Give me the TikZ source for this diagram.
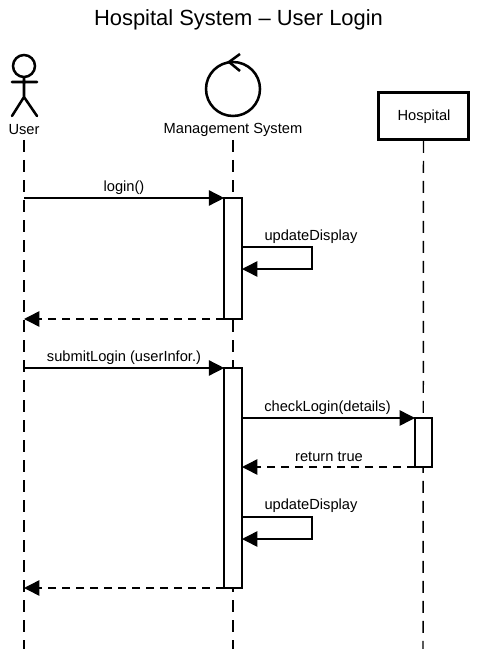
\documentclass[tikz,border=0pt]{standalone}
\usepackage{fontspec}
\setmainfont{Liberation Sans}
\usetikzlibrary{arrows.meta}
\tikzset{
  x=0.75pt,y=-0.75pt,
  lifeline/.style={line width=1.1pt,dash pattern=on 9pt off 6pt,draw=black},
  actorline/.style={line width=1.9pt,line cap=round,draw=black},
  activation/.style={draw=black,fill=white,line width=1.1pt,minimum width=13.2pt,inner sep=0pt,outer sep=0pt,anchor=north},
  msg/.style={line width=1.1pt,draw=black,-{Triangle[length=11.5pt,width=11.5pt]}},
  reply/.style={msg,dash pattern=on 6pt off 4.5pt},
  lbl/.style={font=\fontsize{11pt}{13pt}\selectfont,inner sep=0pt,text=black}
}
\begin{document}
\begin{tikzpicture}
\path[use as bounding box,fill=white] (0,0) rectangle (477,649);
\node[font=\fontsize{16.45pt}{19pt}\selectfont,inner sep=0pt] (title) at (238.5,19.5) {Hospital System – User Login};
% actor
\node[draw=black,line width=1.9pt,circle,minimum size=16.5pt,inner sep=0pt] (head) at (24,66) {};
\coordinate (neck) at (24,77);
\coordinate (hip) at (24,97);
\coordinate (armL) at (12,82);
\coordinate (armR) at (37,82);
\coordinate (legL) at (12,116);
\coordinate (legR) at (37,116);
\draw[actorline] (head.south) -- (hip) (armL) -- (armR) (legL) -- (hip) -- (legR);
\node[lbl] (user) at (24,130) {User};
% control
\node[draw=black,line width=1.9pt,circle,minimum size=40.5pt,inner sep=0pt] (ctrl) at (233,89) {};
\coordinate (chevA) at (240,54);
\coordinate (chevB) at (229,62);
\coordinate (chevC) at (240,71);
\draw[actorline,line cap=butt] (chevA) -- (chevB) -- (chevC);
\node[lbl] (mgmt) at (233,130) {Management System};
% entity
\node[draw=black,line width=2.2pt,minimum width=67pt,minimum height=35pt,inner sep=0pt] (hosp) at (423.5,116) {};
\node[lbl] at (424,117) (hosplbl) {Hospital};
% lifelines
\coordinate (userTop) at (24,140);
\coordinate (mgmtTop) at (233,140);
\coordinate (userEnd) at (24,649);
\coordinate (mgmtEnd) at (233,649);
\coordinate (hospEnd) at (423,649);
\draw[lifeline] (userTop) -- (userEnd);
\draw[lifeline] (mgmtTop) -- (mgmtEnd);
\draw[lifeline] (hosp.south) -- (hospEnd);
% activations
\node[activation,minimum height=90.75pt] (a1) at (233,198) {};
\node[activation,minimum height=165pt] (a2) at (233,368) {};
\node[activation,minimum height=36.75pt,minimum width=12.75pt] (a3) at (423.5,418) {};
% message endpoints
\coordinate (u1) at (24,198);
\coordinate (u2) at (24,319);
\coordinate (u3) at (24,368);
\coordinate (u4) at (24,588);
\coordinate (s1) at (242,247);
\coordinate (s2) at (312,247);
\coordinate (s3) at (312,269);
\coordinate (s4) at (242,269);
\coordinate (t1) at (242,517);
\coordinate (t2) at (312,517);
\coordinate (t3) at (312,539);
\coordinate (t4) at (242,539);
\draw[msg] (u1) -- (a1.north west);
\draw[msg] (s1) -- (s2) -- (s3) -- (s4);
\draw[reply] (a1.south west) -- (u2);
\draw[msg] (u3) -- (a2.north west);
\coordinate (c1) at (242,418);
\coordinate (c2) at (242,467);
\draw[msg] (c1) -- (a3.north west);
\draw[reply] (a3.south west) -- (c2);
\draw[msg] (t1) -- (t2) -- (t3) -- (t4);
\draw[reply] (a2.south west) -- (u4);
% labels
\node[lbl] (l1) at (124,187.5) {login()};
\node[lbl] (l2) at (311,237) {updateDisplay};
\node[lbl] (l3) at (124,357.5) {submitLogin (userInfor.)};
\node[lbl] (l4) at (327.5,407.5) {checkLogin(details)};
\node[lbl] (l5) at (329,456.5) {return true};
\node[lbl] (l6) at (311,506) {updateDisplay};
\end{tikzpicture}
\end{document}
